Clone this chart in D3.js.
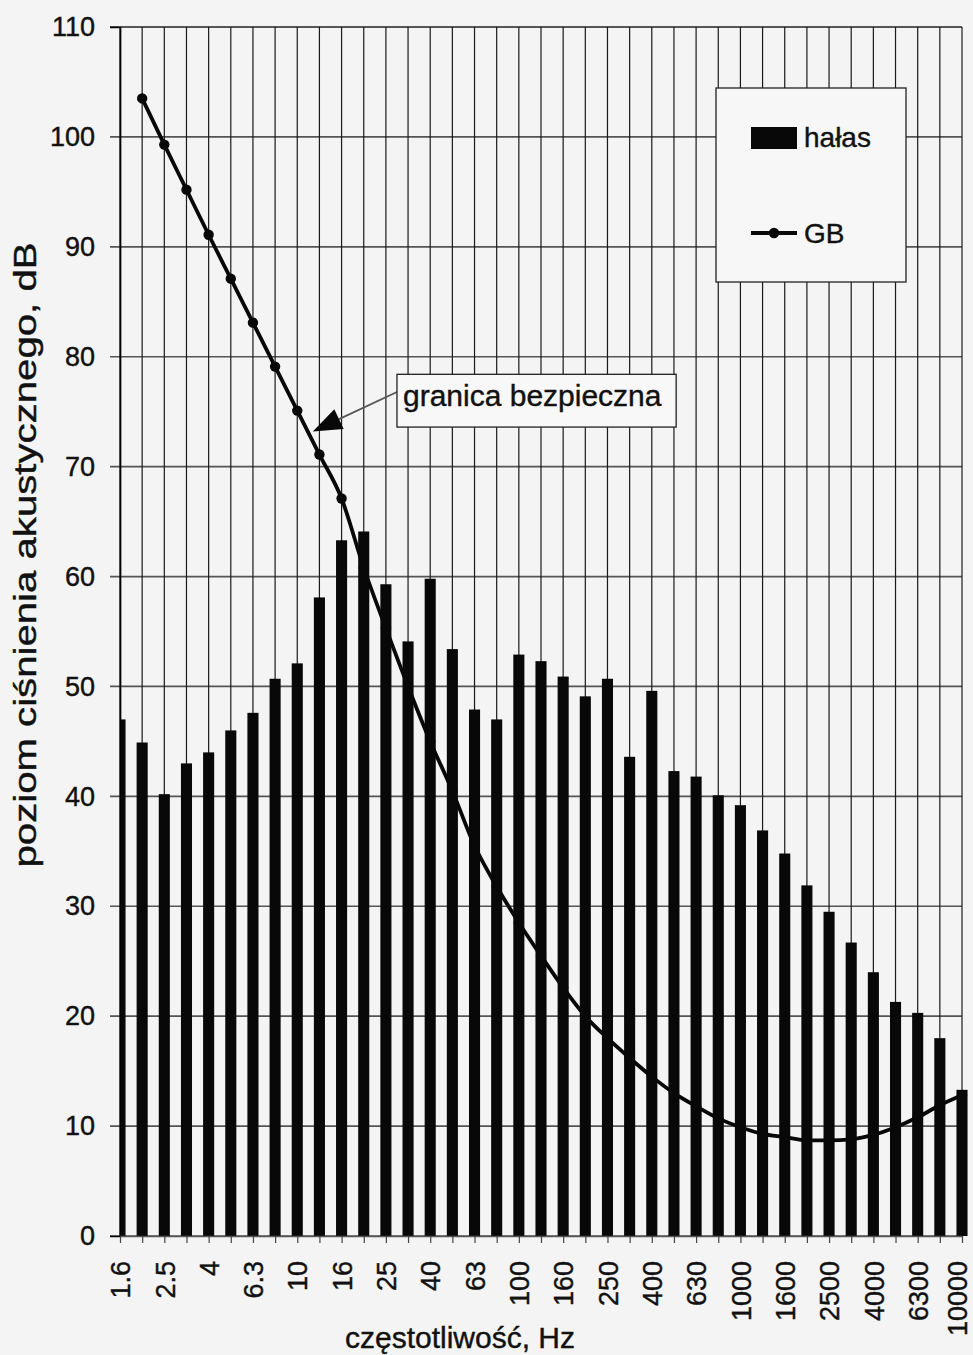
<!DOCTYPE html>
<html>
<head>
<meta charset="utf-8">
<script src="https://cdn.jsdelivr.net/npm/d3@7"></script>
<style>
  body { margin: 0; background: #f4f4f4; }
  text { font-family: "Liberation Sans", Arial, sans-serif; fill: #111; stroke: #111; stroke-width: 0.4px; }
</style>
</head>
<body>
<svg id="chart" width="973" height="1355"></svg>
<script>
"use strict";

// 1/3-octave bands, Hz
const freqs = ["1.6", "2", "2.5", "3.15", "4", "5", "6.3", "8", "10", "12.5", "16", "20",
  "25", "31.5", "40", "50", "63", "80", "100", "125", "160", "200", "250", "315", "400",
  "500", "630", "800", "1000", "1250", "1600", "2000", "2500", "3150", "4000", "5000",
  "6300", "8000", "10000"];

// hałas (noise level), dB
const noise = [47.0, 44.9, 40.2, 43.0, 44.0, 46.0, 47.6, 50.7, 52.1, 58.1, 63.3, 64.1,
  59.3, 54.1, 59.8, 53.4, 47.9, 47.0, 52.9, 52.3, 50.9, 49.1, 50.7, 43.6, 49.6,
  42.3, 41.8, 40.1, 39.2, 36.9, 34.8, 31.9, 29.5, 26.7, 24.0, 21.3, 20.3, 18.0, 13.3];

// GB - granica bezpieczna (no value at 1.6 Hz)
const gb = [null, 103.5, 99.3, 95.2, 91.1, 87.1, 83.1, 79.1, 75.1, 71.1, 67.1, 60.8,
  55.3, 50.0, 45.0, 40.5, 35.5, 31.8, 28.5, 25.5, 22.6, 20.0, 18.0, 16.2, 14.5,
  13.0, 11.8, 10.7, 9.9, 9.3, 9.0, 8.7, 8.7, 8.8, 9.2, 9.9, 10.8, 11.9, 12.8];

const tickLabels = ["1.6", "2.5", "4", "6.3", "10", "16", "25", "40", "63", "100", "160",
  "250", "400", "630", "1000", "1600", "2500", "4000", "6300", "10000"];
const yTicks = [0, 10, 20, 30, 40, 50, 60, 70, 80, 90, 100, 110];

const seriesNames = ["hałas", "GB"];
const yTitle = "poziom ciśnienia akustycznego, dB";
const xTitle = "częstotliwość, Hz";
const noteText = "granica bezpieczna";
// annotation anchors in chart units (band index, dB)
const noteBox = { i0: 12.5, i1: 25.1, top: 78.4, bottom: 73.6 };
const noteArrow = { fromI: 12.5, fromV: 76.8, tipI: 8.7, tipV: 73.2 };

const plot = { left: 120, right: 962, top: 27, bottom: 1236 };
const svg = d3.select("#chart");

const x = d3.scalePoint().domain(freqs).range([plot.left, plot.right]);
const y = d3.scaleLinear().domain([0, 110]).range([plot.bottom, plot.top]);
const xAt = (i) => x(freqs[0]) + i * x.step();
const barW = x.step() * 0.5;
const lastFreq = freqs[freqs.length - 1];

svg.append("defs").append("clipPath").attr("id", "plotClip")
  .append("rect")
    .attr("x", plot.left).attr("y", 0)
    .attr("width", 973 - plot.left).attr("height", plot.bottom);

// horizontal gridlines
svg.append("g")
  .selectAll("line")
  .data(yTicks)
  .enter()
  .append("line")
    .attr("x1", plot.left - 10).attr("x2", plot.right)
    .attr("y1", (d) => y(d)).attr("y2", (d) => y(d))
    .attr("stroke", (d) => d === 110 ? "#222" : "#555")
    .attr("stroke-width", 1.7);

// vertical gridlines at each band
svg.append("g")
  .selectAll("line")
  .data(freqs)
  .enter()
  .append("line")
    .attr("x1", (d) => x(d)).attr("x2", (d) => x(d))
    .attr("y1", y(110)).attr("y2", y(0))
    .attr("stroke", "#1a1a1a")
    .attr("stroke-width", 1.2);

// bars
svg.append("g")
  .attr("clip-path", "url(#plotClip)")
  .selectAll("rect")
  .data(noise)
  .enter()
  .append("rect")
    .attr("x", (d, i) => x(freqs[i]) - barW / 2)
    .attr("y", (d) => y(d))
    .attr("width", barW)
    .attr("height", (d) => y(0) - y(d))
    .attr("fill", "#080808");

// axes
const yAxis = svg.append("g")
  .attr("transform", `translate(${plot.left},0)`)
  .call(d3.axisLeft(y).tickValues(yTicks).tickSize(10).tickPadding(15));
yAxis.select(".domain").attr("stroke", "#000").attr("stroke-width", 1.7);
yAxis.selectAll(".tick line").attr("stroke", "none");
yAxis.selectAll("text")
  .style("font-size", "27px")
  .style("font-family", "'Liberation Sans', Arial, sans-serif")
  .attr("fill", "#111");

const xAxis = svg.append("g")
  .attr("transform", `translate(0,${plot.bottom})`)
  .call(d3.axisBottom(x).tickSize(7).tickSizeOuter(0)
    .tickFormat((d) => tickLabels.includes(d) ? d : ""));
xAxis.select(".domain").attr("stroke", "#555").attr("stroke-width", 1.7);
xAxis.selectAll(".tick line").attr("stroke", "#444").attr("stroke-width", 1.2);
xAxis.selectAll("text")
  .style("font-size", "27px")
  .style("font-family", "'Liberation Sans', Arial, sans-serif")
  .attr("fill", "#111")
  .attr("text-anchor", "end")
  .attr("transform", "rotate(-90)")
  .attr("x", -25)
  .attr("y", 0)
  // last label kept inside the picture's right edge
  .attr("dy", (d) => d === lastFreq ? "0.18em" : "0.36em");

// GB line
const line = d3.line()
  .defined((d) => d !== null)
  .x((d, i) => x(freqs[i]))
  .y((d) => y(d))
  .curve(d3.curveMonotoneX);

svg.append("path")
  .datum(gb)
  .attr("d", line)
  .attr("fill", "none")
  .attr("stroke", "#080808")
  .attr("stroke-width", 3.8);

svg.append("g")
  .selectAll("circle")
  .data(gb.map((v, i) => ({ v, f: freqs[i] })).filter((d) => d.v !== null))
  .enter()
  .append("circle")
    .attr("cx", (d) => x(d.f))
    .attr("cy", (d) => y(d.v))
    .attr("r", 5.2)
    .attr("fill", "#080808");

// annotation
const tipX = xAt(noteArrow.tipI), tipY = y(noteArrow.tipV);
const fromX = xAt(noteArrow.fromI), fromY = y(noteArrow.fromV);
const ang = Math.atan2(fromY - tipY, fromX - tipX);
const headLen = 29, headHalf = 11;
const baseX = tipX + headLen * Math.cos(ang), baseY = tipY + headLen * Math.sin(ang);

svg.append("line")
  .attr("x1", fromX).attr("y1", fromY)
  .attr("x2", baseX).attr("y2", baseY)
  .attr("stroke", "#555")
  .attr("stroke-width", 1.7);

svg.append("path")
  .attr("d", d3.line()([
    [tipX, tipY],
    [baseX + headHalf * Math.sin(ang), baseY - headHalf * Math.cos(ang)],
    [baseX - headHalf * Math.sin(ang), baseY + headHalf * Math.cos(ang)]
  ]) + "Z")
  .attr("fill", "#080808");

svg.append("rect")
  .attr("x", xAt(noteBox.i0))
  .attr("y", y(noteBox.top))
  .attr("width", xAt(noteBox.i1) - xAt(noteBox.i0))
  .attr("height", y(noteBox.bottom) - y(noteBox.top))
  .attr("fill", "#f8f8f8")
  .attr("stroke", "#222")
  .attr("stroke-width", 1.3);

svg.append("text")
  .attr("x", xAt(noteBox.i0) + 6)
  .attr("y", y(noteBox.top) + 32)
  .style("font-size", "30px")
  .text(noteText);

// legend
const legend = svg.append("g").attr("transform", "translate(716,88)");
legend.append("rect")
  .attr("width", 190).attr("height", 194)
  .attr("fill", "#f7f7f7")
  .attr("stroke", "#222")
  .attr("stroke-width", 1.3);
legend.append("rect")
  .attr("x", 35).attr("y", 39).attr("width", 46).attr("height", 22)
  .attr("fill", "#080808");
legend.append("text")
  .attr("x", 88).attr("y", 59)
  .style("font-size", "28px")
  .text(seriesNames[0]);
legend.append("line")
  .attr("x1", 35).attr("x2", 81).attr("y1", 145).attr("y2", 145)
  .attr("stroke", "#080808").attr("stroke-width", 3.8);
legend.append("circle")
  .attr("cx", 58).attr("cy", 145).attr("r", 5.2)
  .attr("fill", "#080808");
legend.append("text")
  .attr("x", 88).attr("y", 155)
  .style("font-size", "28px")
  .text(seriesNames[1]);

// axis titles
svg.append("text")
  .attr("transform", "translate(36,555) rotate(-90)")
  .attr("text-anchor", "middle")
  .attr("textLength", 625)
  .attr("lengthAdjust", "spacingAndGlyphs")
  .style("font-size", "31px")
  .text(yTitle);

svg.append("text")
  .attr("x", 460).attr("y", 1348)
  .attr("text-anchor", "middle")
  .style("font-size", "30px")
  .text(xTitle);
</script>
</body>
</html>
